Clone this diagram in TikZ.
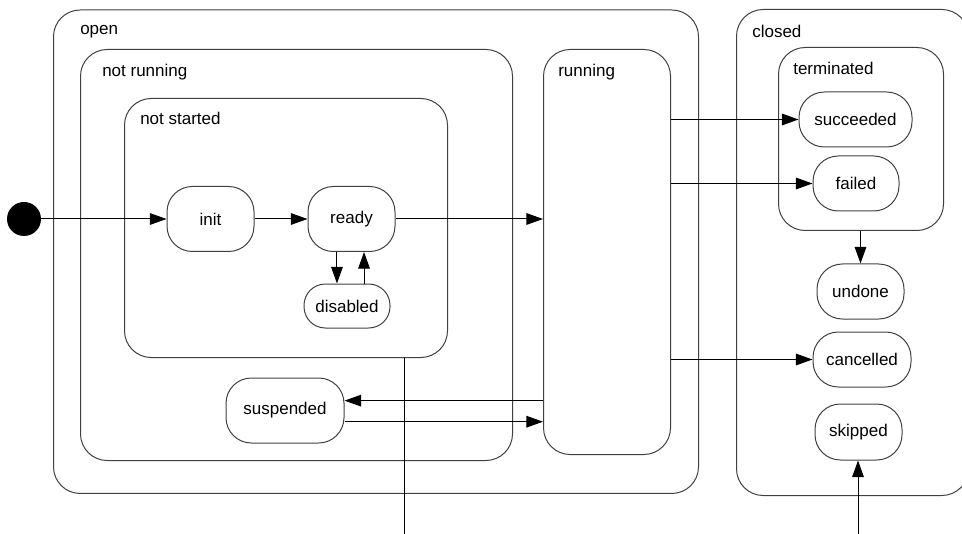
\documentclass[tikz,border=0pt]{standalone}
\usepackage{fontspec}
\setmainfont{Liberation Sans}
\usetikzlibrary{arrows.meta, positioning, calc}

\begin{document}
\begin{tikzpicture}[
        x=0.75pt, y=-0.75pt,
        font=\fontsize{12.75pt}{15pt}\selectfont,
        region/.style={rectangle, rounded corners=20pt, draw=black!75,
                       line width=0.75pt, anchor=north west},
        state/.style={rectangle, rounded corners=19pt, draw=black!75,
                      line width=0.75pt, minimum height=41.25pt, align=center},
        title/.style={anchor=base west, inner sep=0pt},
        arrow/.style={-{Triangle[length=12.5pt, width=8.75pt]}, line width=0.75pt},
    ]
    \clip (0,0) rectangle (962,534);

    % composite states
    \node[region, minimum width=483.75pt, minimum height=362.6pt] (open) at (53,9.5) {};
    \node[region, minimum width=324pt, minimum height=308.25pt] (notrunning) at (80,49) {};
    \node[region, minimum width=242.25pt, minimum height=194.25pt] (notstarted) at (124,98) {};
    \node[region, minimum width=95.25pt, minimum height=303.75pt] (running) at (543,49) {};
    \node[region, minimum width=174pt, minimum height=364.5pt] (closed) at (736,9) {};
    \node[region, minimum width=123.75pt, minimum height=137.25pt] (terminated) at (778,47) {};

    \node[title] (openlbl) at (80,35) {open};
    \node[title] (notrunninglbl) at (102,77) {not running};
    \node[title] (notstartedlbl) at (140,125) {not started};
    \node[title] (runninglbl) at (558,77) {running};
    \node[title] (closedlbl) at (752,38) {closed};
    \node[title] (terminatedlbl) at (793,75) {terminated};

    % simple states
    \node[circle, fill=black, minimum size=25.5pt, inner sep=0pt] (start) at (24,219) {};
    \node[state, minimum width=65.25pt, minimum height=48.75pt] (init) at (210.5,219) {init};
    \node[state, minimum width=65.25pt, minimum height=48.75pt] (ready) at (351.5,219) {ready};
    \node[state, rounded corners=16pt, minimum width=64.5pt, minimum height=33pt] (disabled) at (347,306) {disabled};
    \node[state, minimum width=88.5pt, minimum height=48.75pt] (suspended) at (285,410.5) {suspended};
    \node[state, minimum width=84.75pt] (succeeded) at (855.5,119.5) {succeeded};
    \node[state, minimum width=64.5pt] (failed) at (856,183.5) {failed};
    \node[state, minimum width=65.25pt] (undone) at (860.5,291.5) {undone};
    \node[state, minimum width=73.5pt] (cancelled) at (862,359.5) {cancelled};
    \node[state, minimum width=65.25pt, minimum height=42pt] (skipped) at (858.5,432) {skipped};

    \coordinate (exit) at (404,534);
    \coordinate (entry) at (858,534);

    % transitions
    \draw[arrow] (start) -- (init);
    \draw[arrow] (init) -- (ready);
    \draw[arrow] (ready) -- (ready -| running.west);
    \draw[arrow] ([xshift=-10.9pt]ready.south) -- ([xshift=-10.9pt]ready.south |- disabled.north);
    \draw[arrow] ([xshift=9.4pt]ready.south |- disabled.north) -- ([xshift=9.4pt]ready.south);
    \draw[arrow] (succeeded -| running.east) -- (succeeded);
    \draw[arrow] (failed -| running.east) -- (failed);
    \draw[arrow] (cancelled -| running.east) -- (cancelled);
    \draw[arrow] ([yshift=7.4pt]suspended.east -| running.west) -- ([yshift=7.4pt]suspended.east);
    \draw[arrow] ([yshift=-8.4pt]suspended.east) -- ([yshift=-8.4pt]suspended.east -| running.west);
    \draw[arrow] (terminated.south -| undone) -- (undone);
    \draw[arrow] (entry) -- (entry |- skipped.south);
    \draw (notstarted.south -| exit) -- (exit);
\end{tikzpicture}
\end{document}
